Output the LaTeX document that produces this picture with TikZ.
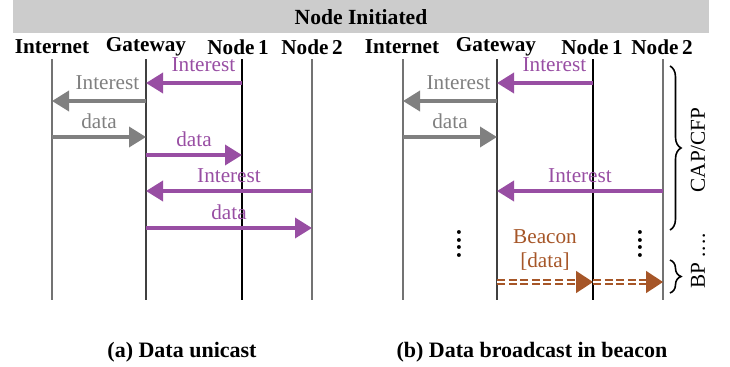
\documentclass[tikz,border=0pt]{standalone}
\usepackage{fontspec}
\setmainfont{Liberation Serif}
\usetikzlibrary{arrows.meta}
\usetikzlibrary{decorations.pathreplacing}
\usetikzlibrary{calc}

\definecolor{mpurple}{HTML}{984EA3}
\definecolor{mgray}{HTML}{808080}
\definecolor{bbrown}{HTML}{A65628}

\begin{document}
\begin{tikzpicture}[x=0.5pt, y=-0.5pt,
    font=\fontsize{10.6}{12}\selectfont,
    head/.style={font=\fontsize{10.6}{12}\selectfont\bfseries, inner sep=0pt},
    life/.style={line width=0.6pt},
    msg/.style={line width=1.8pt, -{Triangle[length=8.5pt,width=10pt]}},
    sendlbl/.style={above left, inner sep=2.5pt, yshift=2.5pt},
    midlbl/.style={above, midway},
    beam/.style={bbrown, line width=0.8pt, double, double distance=1pt,
        dash pattern=on 4pt off 1.8pt, -{Triangle[length=8.5pt,width=11pt]}},
    side/.style={rotate=90, inner sep=0pt},
    vdot/.style={rotate=90, inner sep=0pt, font=\fontsize{12}{14}\selectfont\bfseries},
    capt/.style={font=\fontsize{11}{13}\selectfont\bfseries}]
    \useasboundingbox (0,0) rectangle (730,366);
    \fill[black!20] (13,0) rectangle (709,33);
    \node[head, font=\fontsize{10.8}{12}\selectfont\bfseries] (title) at (361,17) {Node Initiated};

    \foreach \nm/\hx/\x/\col/\txt in {inA/52/52/black!55/Internet, gwA/146/146/black!75/Gateway,
        nA/238/242/black/Node\,1, mA/312/312/black!55/Node\,2,
        inB/402/403/black!55/Internet, gwB/496/497/black!75/Gateway,
        nB/592/593/black/Node\,1, mB/662/663/black!55/Node\,2} {
        \node[head] (h\nm) at (\hx,47) {\txt};
        \coordinate (\nm) at (\x,59);
        \draw[life, \col] (\nm) -- (\x,300);
    }

    \draw[msg, mpurple] (nA |- 0,83) -- node[sendlbl, pos=0] (lA1) {Interest} (gwA |- 0,83);
    \draw[msg, mgray] (gwA |- 0,101) -- node[sendlbl, pos=0] (lA2) {Interest} (inA |- 0,101);
    \draw[msg, mgray] (inA |- 0,137) -- node[midlbl] (lA3) {data} (gwA |- 0,137);
    \draw[msg, mpurple] (gwA |- 0,155) -- node[midlbl] (lA4) {data} (nA |- 0,155);
    \draw[msg, mpurple] (mA |- 0,191) -- node[midlbl] (lA5) {Interest} (gwA |- 0,191);
    \draw[msg, mpurple] (gwA |- 0,228) -- node[midlbl] (lA6) {data} (mA |- 0,228);

    \draw[msg, mpurple] (nB |- 0,83) -- node[sendlbl, pos=0] (lB1) {Interest} (gwB |- 0,83);
    \draw[msg, mgray] (gwB |- 0,101) -- node[sendlbl, pos=0] (lB2) {Interest} (inB |- 0,101);
    \draw[msg, mgray] (inB |- 0,137) -- node[midlbl] (lB3) {data} (gwB |- 0,137);
    \draw[msg, mpurple] (mB |- 0,191) -- node[midlbl] (lB4) {Interest} (gwB |- 0,191);

    \node[vdot] (dotsB1) at (459,244) {.\kern.07em.\kern.07em.\kern.07em.};
    \node[vdot] (dotsB2) at (640,244) {.\kern.07em.\kern.07em.\kern.07em.};
    \node[bbrown, align=center, inner sep=0pt] (beacon) at (545,250) {Beacon\\{}[data]};
    \draw[beam] (gwB |- 0,282) -- (nB |- 0,282);
    \draw[beam] (nB |- 0,282) -- (mB |- 0,282);

    \draw[line width=0.8pt, decorate, decoration={brace, amplitude=5.5pt}] (670,66) -- (670,230);
    \draw[line width=0.8pt, decorate, decoration={brace, amplitude=5.5pt}] (670,260) -- (670,293);
    \node[side] (capcfp) at (698,150) {CAP/CFP};
    \node[side] (bp) at (698,261) {BP .\kern.05em.\kern.05em.\kern.05em.};

    \node[capt] (captA) at (182,352) {(a) Data unicast};
    \node[capt] (captB) at (532,352) {(b) Data broadcast in beacon};
\end{tikzpicture}
\end{document}
